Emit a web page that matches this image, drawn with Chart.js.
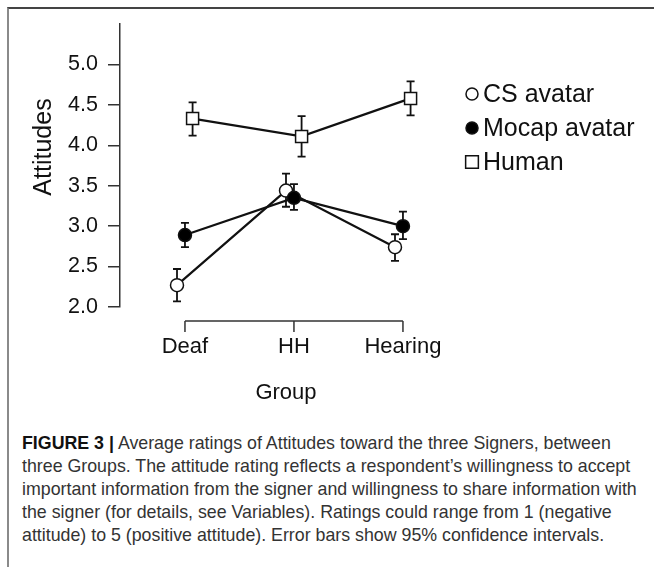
<!DOCTYPE html>
<html>
<head>
<meta charset="utf-8">
<script src="https://cdn.jsdelivr.net/npm/chart.js@4.4.1/dist/chart.umd.min.js"></script>
<style>
  body { margin: 0; background: #fff; }
  #frame { position: absolute; left: 7px; top: 7px; width: 647px; height: 560px;
           border-top: 2px solid #444; border-left: 2px solid #8a8a8a; box-sizing: border-box; }
  #wrap { position: absolute; left: 0; top: 0; width: 654px; height: 420px; }
  #caption { position: absolute; left: 22px; top: 432px; font-family: "Liberation Sans", Arial, sans-serif;
             font-size: 17.8px; line-height: 23px; color: #333; white-space: nowrap; }
  #caption b { color: #111; }
</style>
</head>
<body>
<div id="frame"></div>
<div id="wrap"><canvas id="attChart" width="654" height="420"></canvas></div>
<div id="caption">
  <div><b>FIGURE 3 |</b> Average ratings of Attitudes toward the three Signers, between</div>
  <div>three Groups. The attitude rating reflects a respondent’s willingness to accept</div>
  <div>important information from the signer and willingness to share information with</div>
  <div>the signer (for details, see Variables). Ratings could range from 1 (negative</div>
  <div>attitude) to 5 (positive attitude). Error bars show 95% confidence intervals.</div>
</div>
<script>
const groups = ['Deaf', 'HH', 'Hearing'];
const signers = ['CS avatar', 'Mocap avatar', 'Human'];
const yTicks = [2.0, 2.5, 3.0, 3.5, 4.0, 4.5, 5.0];

const csMean = [2.27, 3.44, 2.74];
const csLow = [2.07, 3.24, 2.57];
const csHigh = [2.47, 3.65, 2.90];

const mocapMean = [2.89, 3.35, 3.00];
const mocapLow = [2.74, 3.20, 2.84];
const mocapHigh = [3.04, 3.52, 3.18];

const humanMean = [4.33, 4.11, 4.58];
const humanLow = [4.12, 3.86, 4.37];
const humanHigh = [4.53, 4.36, 4.79];

const font = '"Liberation Sans", Arial, sans-serif';
const ink = '#111';
const dodge = [-0.073, 0, 0.07];

function points(means, k) {
    return means.map((v, i) => ({ x: i + dodge[k], y: v }));
}

// error bars, drawn under the markers
const errorBars = {
    id: 'errorBars',
    beforeDatasetsDraw(chart) {
        const ctx = chart.ctx;
        const y = chart.scales.y;
        ctx.save();
        ctx.strokeStyle = ink;
        ctx.lineWidth = 1.8;
        chart.data.datasets.forEach((ds, i) => {
            const meta = chart.getDatasetMeta(i);
            meta.data.forEach((pt, j) => {
                const top = y.getPixelForValue(ds.high[j]);
                const bot = y.getPixelForValue(ds.low[j]);
                ctx.beginPath();
                ctx.moveTo(pt.x, top); ctx.lineTo(pt.x, bot);
                ctx.moveTo(pt.x - 4, top); ctx.lineTo(pt.x + 4, top);
                ctx.moveTo(pt.x - 4, bot); ctx.lineTo(pt.x + 4, bot);
                ctx.stroke();
            });
        });
        ctx.restore();
    }
};

// bracket-style x axis, y title and legend
const extras = {
    id: 'extras',
    afterDraw(chart) {
        const ctx = chart.ctx;
        const x = chart.scales.x;
        const area = chart.chartArea;
        ctx.save();
        const ly = area.bottom + 14;
        ctx.strokeStyle = '#333';
        ctx.lineWidth = 1.5;
        ctx.beginPath();
        ctx.moveTo(x.getPixelForValue(0), ly);
        ctx.lineTo(x.getPixelForValue(groups.length - 1), ly);
        groups.forEach((g, i) => {
            const px = x.getPixelForValue(i);
            ctx.moveTo(px, ly);
            ctx.lineTo(px, ly + 11);
        });
        ctx.stroke();

        ctx.fillStyle = ink;
        ctx.font = '25px ' + font;
        ctx.textAlign = 'center';
        ctx.textBaseline = 'middle';
        ctx.translate(44, 147);
        ctx.rotate(-Math.PI / 2);
        ctx.fillText('Attitudes', 0, 0);
        ctx.restore();

        ctx.save();
        ctx.font = '25px ' + font;
        ctx.textAlign = 'left';
        ctx.textBaseline = 'middle';
        chart.data.datasets.forEach((ds, i) => {
            const cy = 94 + 34 * i;
            ctx.fillStyle = ds.pointBackgroundColor;
            ctx.strokeStyle = ds.pointBorderColor;
            ctx.lineWidth = 1.5;
            Chart.helpers.drawPoint(ctx, {
                pointStyle: ds.pointStyle,
                radius: ds.pointStyle === 'rect' ? 9 : 6,
                borderWidth: 1.5
            }, 472, cy);
            ctx.fillStyle = ink;
            ctx.fillText(ds.label, 483, cy + 1);
        });
        ctx.restore();
    }
};

function series(k, means, low, high, fill, style, radius, order) {
    return {
        label: signers[k],
        data: points(means, k),
        low: low,
        high: high,
        showLine: true,
        borderColor: ink,
        borderWidth: 2.2,
        pointStyle: style,
        pointRadius: radius,
        pointBackgroundColor: fill,
        pointBorderColor: ink,
        pointBorderWidth: 1.5,
        order: order
    };
}

new Chart(document.getElementById('attChart'), {
    type: 'scatter',
    data: {
        datasets: [
            series(0, csMean, csLow, csHigh, '#fff', 'circle', 6.5, 1),
            series(1, mocapMean, mocapLow, mocapHigh, '#000', 'circle', 6.5, 0),
            series(2, humanMean, humanLow, humanHigh, '#fff', 'rect', 8.5, 2)
        ]
    },
    options: {
        responsive: false,
        animation: false,
        layout: { padding: { left: 0, top: 24, right: 202, bottom: 0 } },
        plugins: { legend: { display: false }, tooltip: { enabled: false } },
        scales: {
            x: {
                type: 'linear',
                min: -0.596,
                max: 2.45,
                afterFit(s) { s.height = 113; },
                afterBuildTicks(s) { s.ticks = groups.map((g, i) => ({ value: i })); },
                grid: { display: false, drawTicks: false },
                border: { display: false },
                ticks: {
                    padding: 27,
                    color: ink,
                    font: { family: font, size: 22 },
                    callback: v => groups[v]
                },
                title: {
                    display: true,
                    text: 'Group',
                    color: ink,
                    font: { family: font, size: 22 },
                    padding: { top: 0, bottom: 14 }
                }
            },
            y: {
                min: 2.0,
                max: 5.5,
                afterFit(s) { s.width = 120; },
                afterBuildTicks(s) { s.ticks = yTicks.map(v => ({ value: v })); },
                grid: { drawOnChartArea: false, drawTicks: true, tickLength: 12, color: '#333', lineWidth: 1.5 },
                border: { display: true, color: '#333', width: 1.5 },
                ticks: {
                    padding: 10,
                    color: ink,
                    font: { family: font, size: 21.5 },
                    callback: v => v.toFixed(1)
                }
            }
        }
    },
    plugins: [errorBars, extras]
});
</script>
</body>
</html>
